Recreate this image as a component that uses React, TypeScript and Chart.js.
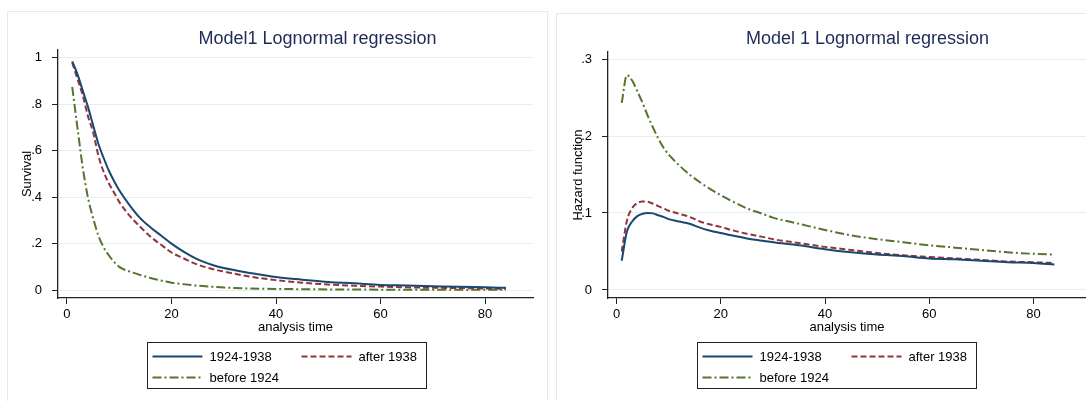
import React, { useEffect, useRef } from "react";
import { Chart, registerables } from "chart.js";

Chart.register(...registerables);

const FONT = '"Liberation Sans", Arial, Helvetica, sans-serif';

// analysis time points
const times = [1, 2, 3, 4, 5, 6, 7, 8, 9, 10, 12, 14, 16, 18, 20, 22, 25, 28, 30, 35, 40, 45, 50, 55, 60, 65, 70, 75, 80, 84];

// Survival (left panel)
const survival1924to1938 = [0.985, 0.93, 0.86, 0.79, 0.71, 0.63, 0.57, 0.515, 0.47, 0.43, 0.365, 0.31, 0.27, 0.235, 0.2, 0.17, 0.132, 0.107, 0.095, 0.074, 0.056, 0.045, 0.035, 0.029, 0.022, 0.02, 0.017, 0.014, 0.012, 0.01];
const survivalAfter1938 = [0.98, 0.91, 0.84, 0.75, 0.68, 0.58, 0.51, 0.46, 0.42, 0.38, 0.32, 0.273, 0.23, 0.195, 0.162, 0.14, 0.11, 0.09, 0.08, 0.058, 0.043, 0.032, 0.024, 0.019, 0.015, 0.012, 0.01, 0.009, 0.007, 0.006];
const survivalBefore1924 = [0.875, 0.7, 0.53, 0.4, 0.31, 0.235, 0.185, 0.15, 0.122, 0.1, 0.08, 0.065, 0.052, 0.041, 0.032, 0.026, 0.019, 0.014, 0.011, 0.007, 0.005, 0.004, 0.003, 0.003, 0.002, 0.002, 0.002, 0.001, 0.001, 0.001];

// Hazard (right panel)
const hazard1924to1938 = [0.038, 0.076, 0.089, 0.096, 0.099, 0.1, 0.0995, 0.097, 0.095, 0.092, 0.089, 0.086, 0.081, 0.077, 0.074, 0.071, 0.067, 0.064, 0.062, 0.058, 0.053, 0.049, 0.046, 0.044, 0.041, 0.04, 0.038, 0.036, 0.035, 0.033];
const hazardAfter1938 = [0.05, 0.09, 0.106, 0.113, 0.115, 0.1145, 0.112, 0.109, 0.106, 0.103, 0.099, 0.095, 0.089, 0.085, 0.082, 0.078, 0.073, 0.069, 0.066, 0.061, 0.056, 0.052, 0.048, 0.045, 0.043, 0.041, 0.039, 0.037, 0.036, 0.035];
const hazardBefore1924 = [0.243, 0.279, 0.272, 0.258, 0.243, 0.226, 0.211, 0.197, 0.185, 0.176, 0.162, 0.15, 0.14, 0.131, 0.123, 0.116, 0.106, 0.099, 0.094, 0.086, 0.078, 0.071, 0.066, 0.062, 0.058, 0.055, 0.052, 0.049, 0.047, 0.046];

const seriesLabels = ["1924-1938", "after 1938", "before 1924"];

const xTicks = [0, 20, 40, 60, 80];
const xTickLabels = ["0", "20", "40", "60", "80"];
const survTicks = [0, 0.2, 0.4, 0.6, 0.8, 1];
const survTickLabels = ["0", ".2", ".4", ".6", ".8", "1"];
const hazTicks = [0, 0.1, 0.2, 0.3];
const hazTickLabels = ["0", ".1", ".2", ".3"];

const COLORS = ["#1a476f", "#90353b", "#55752f"];
const DASHES: number[][] = [[], [6, 3], [9, 3, 2, 3]];

const GRID = "#e5eef0";
const AXIS = "#222222";

type PanelCfg = {
  title: string;
  yTitle: string;
  values: number[][];
  yTicks: number[];
  yTickLabels: string[];
  yMin: number;
  yMax: number;
  xMin: number;
  xMax: number;
  yAxisWidth: number;
  yTitlePad: number;
  padTop: number;
  padRight: number;
  padBottom: number;
  titleY: number;
};

function makeChart(canvas: HTMLCanvasElement, cfg: PanelCfg) {
  const datasets = cfg.values.map((vals, i) => ({
    label: seriesLabels[i],
    data: times.map((t, j) => ({ x: t, y: vals[j] })),
    borderColor: COLORS[i],
    backgroundColor: COLORS[i],
    borderWidth: 2,
    borderDash: DASHES[i],
    pointRadius: 0,
    fill: false,
    cubicInterpolationMode: "monotone" as const,
  }));

  const titlePlugin = {
    id: "stataTitle",
    afterDraw(chart: any) {
      const { ctx, chartArea } = chart;
      ctx.save();
      ctx.font = `18px ${FONT}`;
      ctx.fillStyle = "#1e2b57";
      ctx.textAlign = "center";
      ctx.textBaseline = "alphabetic";
      ctx.fillText(cfg.title, chartArea.left + 259.5, cfg.titleY);
      ctx.restore();
    },
  };

  const legendPlugin = {
    id: "stataLegend",
    afterDraw(chart: any) {
      const { ctx, chartArea } = chart;
      const left = Math.round(chartArea.left + 88.5) + 0.5;
      const top = Math.round(chartArea.bottom + 44) + 0.5;
      const w = 279;
      const h = 46;
      ctx.save();
      ctx.fillStyle = "#ffffff";
      ctx.fillRect(left, top, w, h);
      ctx.strokeStyle = AXIS;
      ctx.lineWidth = 1;
      ctx.setLineDash([]);
      ctx.strokeRect(left, top, w, h);
      const entries = [
        { i: 0, col: 0, row: 0 },
        { i: 1, col: 1, row: 0 },
        { i: 2, col: 0, row: 1 },
      ];
      entries.forEach((e) => {
        const cx = left + (e.col === 0 ? 5 : 154);
        const cy = top + (e.row === 0 ? 14 : 35);
        ctx.strokeStyle = COLORS[e.i];
        ctx.lineWidth = 2;
        ctx.setLineDash(DASHES[e.i]);
        ctx.beginPath();
        ctx.moveTo(cx, cy);
        ctx.lineTo(cx + 50, cy);
        ctx.stroke();
        ctx.setLineDash([]);
        ctx.fillStyle = "#000";
        ctx.font = `13px ${FONT}`;
        ctx.textAlign = "left";
        ctx.textBaseline = "middle";
        ctx.fillText(seriesLabels[e.i], cx + 57, cy + 0.5);
      });
      ctx.restore();
    },
  };

  return new Chart(canvas, {
    type: "line",
    data: { datasets },
    plugins: [titlePlugin, legendPlugin],
    options: {
      animation: false,
      responsive: false,
      maintainAspectRatio: false,
      parsing: true,
      layout: {
        padding: { top: cfg.padTop, left: 0, right: cfg.padRight, bottom: cfg.padBottom },
      },
      plugins: {
        legend: { display: false },
        title: { display: false },
        tooltip: { enabled: false },
      },
      scales: {
        x: {
          type: "linear",
          min: cfg.xMin,
          max: cfg.xMax,
          afterBuildTicks: (s: any) => {
            s.ticks = xTicks.map((v) => ({ value: v }));
          },
          afterFit: (s: any) => {
            s.height = 37.5;
          },
          ticks: {
            padding: 3,
            color: "#000",
            font: { family: FONT, size: 13 },
            maxRotation: 0,
            autoSkip: false,
            callback: (_v: any, idx: number) => xTickLabels[idx],
          },
          grid: {
            display: true,
            drawOnChartArea: false,
            drawTicks: true,
            tickLength: 6,
            tickColor: AXIS,
            tickWidth: 1,
          },
          border: { display: true, color: AXIS, width: 1.3 },
          title: {
            display: true,
            text: "analysis time",
            color: "#000",
            font: { family: FONT, size: 13 },
            padding: 0,
          },
        },
        y: {
          type: "linear",
          min: cfg.yMin,
          max: cfg.yMax,
          afterBuildTicks: (s: any) => {
            s.ticks = cfg.yTicks.map((v) => ({ value: v }));
          },
          afterFit: (s: any) => {
            s.width = cfg.yAxisWidth;
          },
          ticks: {
            padding: 10,
            color: "#000",
            font: { family: FONT, size: 13 },
            autoSkip: false,
            callback: (_v: any, idx: number) => cfg.yTickLabels[idx],
          },
          grid: {
            display: true,
            drawOnChartArea: true,
            color: GRID,
            lineWidth: 1,
            drawTicks: true,
            tickLength: 6,
            tickColor: AXIS,
            tickWidth: 1,
          },
          border: { display: true, color: AXIS, width: 1.3 },
          title: {
            display: true,
            text: cfg.yTitle,
            color: "#000",
            font: { family: FONT, size: 13 },
            padding: { top: cfg.yTitlePad, bottom: 0 },
          },
        },
      },
    },
  } as any);
}

export default function App() {
  const leftRef = useRef<HTMLCanvasElement | null>(null);
  const rightRef = useRef<HTMLCanvasElement | null>(null);

  useEffect(() => {
    const charts: Chart[] = [];
    if (leftRef.current) {
      charts.push(
        makeChart(leftRef.current, {
          title: "Model1 Lognormal regression",
          yTitle: "Survival",
          values: [survival1924to1938, survivalAfter1938, survivalBefore1924],
          yTicks: survTicks,
          yTickLabels: survTickLabels,
          yMin: -0.034,
          yMax: 1.034,
          xMin: -1.72,
          xMax: 89.18,
          yAxisWidth: 50,
          yTitlePad: 11.5,
          padTop: 38,
          padRight: 13,
          padBottom: 65.5,
          titleY: 32,
        })
      );
    }
    if (rightRef.current) {
      charts.push(
        makeChart(rightRef.current, {
          title: "Model 1 Lognormal regression",
          yTitle: "Hazard function",
          values: [hazard1924to1938, hazardAfter1938, hazardBefore1924],
          yTicks: hazTicks,
          yTickLabels: hazTickLabels,
          yMin: -0.0104,
          yMax: 0.3091,
          xMin: -1.63,
          xMax: 90.07,
          yAxisWidth: 51,
          yTitlePad: 13.2,
          padTop: 38,
          padRight: 0,
          padBottom: 65.5,
          titleY: 30,
        })
      );
    }
    return () => charts.forEach((c) => c.destroy());
  }, []);

  return (
    <div
      style={{
        position: "absolute",
        left: 0,
        top: 0,
        width: 1086,
        height: 401,
        overflow: "hidden",
        background: "#ffffff",
      }}
    >
      <div
        style={{
          position: "absolute",
          left: 7,
          top: 11,
          width: 539,
          height: 420,
          border: "1px solid #e3ebed",
          boxSizing: "content-box",
        }}
      />
      <div
        style={{
          position: "absolute",
          left: 556,
          top: 13,
          width: 560,
          height: 420,
          border: "1px solid #e3ebed",
          boxSizing: "content-box",
        }}
      />
      <canvas
        ref={leftRef}
        width={538}
        height={389}
        style={{ position: "absolute", left: 8, top: 12, width: 538, height: 389 }}
      />
      <canvas
        ref={rightRef}
        width={529}
        height={387}
        style={{ position: "absolute", left: 557, top: 14, width: 529, height: 387 }}
      />
    </div>
  );
}
